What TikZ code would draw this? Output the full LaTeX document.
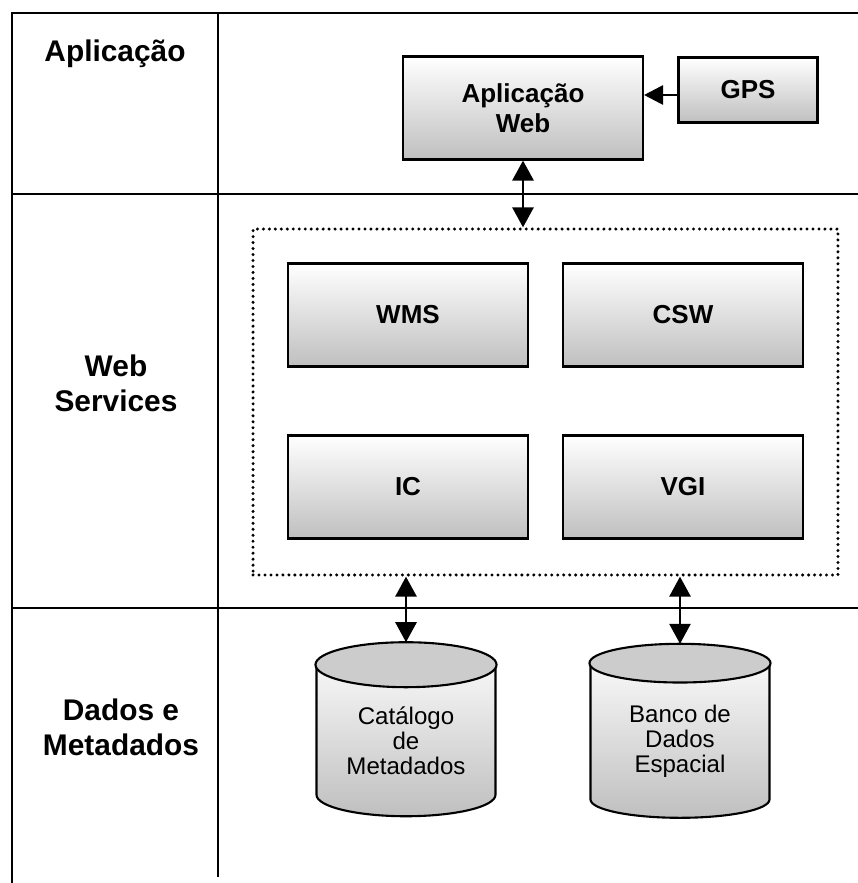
\documentclass[tikz,border=0pt]{standalone}
\usepackage{fontspec}
\setmainfont{Liberation Sans}
\usetikzlibrary{calc,
	positioning,
	shapes,
	arrows,
	arrows.meta}
\tikzstyle{layer}=[font=\bfseries\fontsize{17}{20}\selectfont, align=center, inner sep=0]
\tikzstyle{svc}=[draw, line width=1.2pt, top color=white, bottom color=gray!50,
		font=\bfseries\fontsize{14.8}{17}\selectfont, align=center,
		minimum width=4.8cm, minimum height=2.06cm, inner sep=0]
\tikzstyle{db}=[draw, line width=1.2pt, cylinder, shape border rotate=90, aspect=0.36,
		top color=white, bottom color=gray!50, minimum width=3.58cm,
		minimum height=3.46cm, font=\fontsize{13.7}{14.2}\selectfont,
		align=center, inner sep=0]
\tikzstyle{dbtop}=[draw, line width=1.2pt, fill=gray!40]
\tikzstyle{grp}=[draw, line width=1.9pt, dash pattern=on 0pt off 3.4pt, line cap=round,
		minimum width=11.7cm, minimum height=6.92cm, inner sep=0]
\tikzstyle{dup}=[{Triangle[width=0.42cm,length=0.4cm]}-{Triangle[width=0.42cm,length=0.4cm]}, line width=1.6pt]
\tikzstyle{sgl}=[-{Triangle[width=0.38cm,length=0.38cm]}, line width=1.6pt]
\tikzstyle{rule}=[line width=1.2pt]

\begin{document}
\begin{tikzpicture}[x=0.02cm, y=-0.02cm]
            \useasboundingbox (0,0) rectangle (858,883);
            \draw[rule] (12,883) -- (12,13) -- (858,13);
            \draw[rule] (218,13) -- (218,877);
            \draw[rule] (12,194) -- (858,194);
            \draw[rule] (12,608) -- (858,608);

            \node[layer] (lapp) at (115,54) {Aplicação};
            \node[layer] (lws) at (116,383) {Web\\Services};
            \node[layer] (ldata) at (121,727) {Dados e\\Metadados};

            \node[svc] (app) at (523,108) {Aplicação\\Web};
            \node[svc, minimum width=2.78cm, minimum height=1.3cm] (gps) at (748,90) {GPS};
            \node[grp] (ws) at (545.5,402) {};
            \node[svc] (wms) at (408,315) {WMS};
            \node[svc] (csw) at (683,315) {CSW};
            \node[svc] (ic) at (408,487) {IC};
            \node[svc] (vgi) at (683,487) {VGI};
            \node[db] (cat) at (406,741) {Catálogo\\de\\Metadados};
            \node[db] (bdg) at (680,741) {Banco de\\Dados\\Espacial};
            \foreach \c in {cat,bdg}
                \draw[dbtop] let \p1=(\c.before top), \p2=(\c.after top), \p3=(\c.top) in
                    ($(\p1)!0.5!(\p2)$) ellipse [x radius={0.5*abs(\x2-\x1)}, y radius={abs(\y3-\y1)}];

            \draw[sgl] ([yshift=-0.1cm]gps.west) -- ([yshift=-0.1cm]gps.west -| app.east);
            \draw[dup] (app.south) -- (app.south |- ws.north);
            \draw[dup] (ws.south -| cat.top) -- (cat.top);
            \draw[dup] (ws.south -| bdg.top) -- (bdg.top);
        \end{tikzpicture}
\end{document}
